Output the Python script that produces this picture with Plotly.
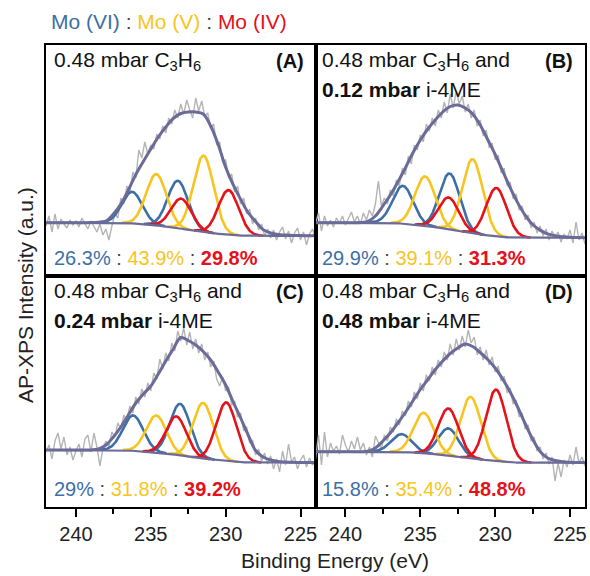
import numpy as np
import plotly.graph_objects as go
from plotly.subplots import make_subplots

FONT = "Liberation Sans, Arial, Helvetica, sans-serif"

# ---------------- data ----------------
energy_raw = np.linspace(242, 224, 91)   # 0.2 eV steps
energy_env = np.linspace(242, 224, 37)   # 0.5 eV steps
energy_fit = np.linspace(242, 224, 721)  # fine grid for fitted components

raw_A = [50, 60, 44, 62, 47, 57, 52, 48, 56, 51, 55, 49, 58, 52, 47, 55, 50, 44, 52, 41,
         47, 36, 50, 62, 58, 78, 72, 90, 84, 104, 98, 126, 118, 134, 122, 131, 127, 142, 137, 150,
         143, 158, 152, 166, 158, 172, 162, 176, 166, 158, 178, 165, 175, 160, 163, 148, 152, 131, 134, 114,
         116, 98, 102, 84, 90, 72, 78, 62, 67, 52, 58, 46, 52, 40, 47, 38, 46, 36, 44, 49,
         37, 45, 33, 43, 48, 36, 44, 31, 42, 47, 38]
raw_B = [52, 63, 45, 60, 50, 56, 49, 58, 53, 60, 51, 57, 64, 54, 60, 52, 63, 56, 66, 60,
         72, 95, 70, 78, 72, 86, 80, 96, 90, 108, 101, 120, 112, 131, 126, 141, 134, 152, 145, 158,
         150, 166, 158, 174, 163, 182, 168, 185, 172, 180, 164, 172, 158, 166, 150, 156, 140, 146, 128, 133,
         116, 121, 103, 108, 90, 94, 77, 82, 66, 70, 56, 61, 48, 54, 43, 50, 40, 47, 36, 45,
         38, 44, 34, 42, 37, 46, 33, 54, 36, 43, 32]
raw_C = [55, 62, 48, 66, 74, 58, 70, 52, 60, 47, 56, 63, 50, 68, 72, 55, 74, 60, 41, 58,
         66, 60, 75, 70, 84, 78, 92, 86, 101, 94, 110, 103, 118, 110, 124, 116, 134, 128, 148, 138,
         154, 146, 164, 156, 176, 166, 179, 162, 175, 158, 168, 154, 163, 147, 155, 140, 146, 128, 121, 130,
         116, 120, 102, 106, 90, 94, 76, 80, 64, 67, 52, 58, 46, 54, 43, 51, 38, 48, 35, 56,
         42, 63, 45, 50, 38, 47, 52, 40, 49, 42, 46]
raw_D = [48, 72, 42, 75, 50, 64, 56, 61, 53, 72, 62, 55, 66, 58, 70, 57, 64, 52, 60, 50,
         71, 64, 58, 72, 66, 80, 75, 88, 82, 96, 91, 106, 100, 115, 108, 124, 116, 132, 126, 140,
         132, 147, 140, 155, 147, 163, 152, 168, 157, 171, 160, 177, 164, 170, 152, 160, 147, 157, 142, 150,
         135, 141, 126, 131, 114, 119, 103, 107, 90, 94, 78, 82, 66, 70, 56, 60, 48, 54, 43, 50,
         26, 44, 30, 47, 40, 52, 42, 60, 44, 50, 41]

env_A = [53.3, 53.3, 53.3, 53.3, 53.3, 53.3, 53.4, 53.8, 55.0, 62.0, 72.0, 86.0, 101.5, 114.5, 127.0, 139.0,
         149.0, 157.5, 162.5, 164.0, 164.0, 162.0, 150.0, 131.5, 108.8, 91.3, 76.6, 63.5, 54.4, 46.4, 43.0,
         41.5, 41.0, 40.6, 40.4, 40.3, 40.2]
env_B = [53.3, 53.3, 53.3, 53.3, 53.3, 53.3, 53.5, 54.5, 60.0, 70.0, 81.0, 94.0, 108.0, 123.0, 136.0, 147.0,
         156.0, 164.0, 169.5, 171.0, 168.0, 162.0, 151.0, 136.5, 121.7, 105.0, 88.4, 73.4, 60.9, 51.5, 45.9,
         42.1, 40.3, 39.3, 38.7, 38.4, 38.3]
env_C = [57.0, 57.0, 57.0, 57.0, 57.0, 57.0, 57.1, 58.0, 62.0, 70.0, 80.0, 92.0, 104.0, 113.0, 121.0, 133.0,
         146.0, 158.0, 169.5, 166.5, 162.0, 155.5, 147.0, 135.0, 122.0, 105.0, 89.0, 72.0, 56.5, 50.0, 47.0,
         45.5, 45.0, 44.7, 44.6, 44.5, 44.5]
env_D = [55.3, 55.3, 55.3, 55.3, 55.3, 55.3, 55.3, 55.8, 59.0, 66.0, 74.0, 84.0, 94.5, 106.0, 117.5, 127.5,
         137.5, 146.0, 153.5, 159.0, 163.0, 160.5, 154.5, 147.5, 139.0, 128.0, 115.0, 100.0, 83.5, 68.0, 55.5,
         49.0, 46.5, 45.3, 44.8, 44.5, 44.4]

# background levels: (high-BE side, low-BE side)
bg_A = (53.3, 40.2)
bg_B = (53.3, 38.3)
bg_C = (57.0, 44.5)
bg_D = (55.3, 44.4)

# fitted components: (oxidation state, centre eV, height above background, FWHM eV)
peaks_A = [("VI", 236.25, 31.7, 1.6), ("VI", 233.19, 47.4, 1.6),
           ("V", 234.63, 51.3, 1.6), ("V", 231.48, 76.3, 1.6),
           ("IV", 232.97, 30.0, 1.6), ("IV", 229.81, 44.6, 1.6)]
peaks_B = [("VI", 236.16, 37.9, 1.6), ("VI", 233.04, 55.9, 1.6),
           ("V", 234.68, 49.5, 1.6), ("V", 231.51, 74.2, 1.6),
           ("IV", 233.10, 31.7, 1.6), ("IV", 229.92, 48.5, 1.6)]
peaks_C = [("VI", 236.18, 35.4, 1.6), ("VI", 233.04, 51.7, 1.6),
           ("V", 234.64, 37.0, 1.6), ("V", 231.51, 55.7, 1.6),
           ("IV", 233.29, 38.5, 1.6), ("IV", 229.96, 58.7, 1.6)]
peaks_D = [("VI", 236.25, 18.0, 1.6), ("VI", 233.12, 27.2, 1.6),
           ("V", 234.78, 40.5, 1.6), ("V", 231.64, 61.5, 1.6),
           ("IV", 233.12, 47.2, 1.6), ("IV", 229.94, 71.5, 1.6)]

panel_letters = ["A", "B", "C", "D"]
label_A = ["0.48 mbar C<sub>3</sub>H<sub>6</sub>"]
label_B = ["0.48 mbar C<sub>3</sub>H<sub>6</sub> and", "<b>0.12 mbar</b> i-4ME"]
label_C = ["0.48 mbar C<sub>3</sub>H<sub>6</sub> and", "<b>0.24 mbar</b> i-4ME"]
label_D = ["0.48 mbar C<sub>3</sub>H<sub>6</sub> and", "<b>0.48 mbar</b> i-4ME"]

pct_A = ["26.3%", "43.9%", "29.8%"]
pct_B = ["29.9%", "39.1%", "31.3%"]
pct_C = ["29%", "31.8%", "39.2%"]
pct_D = ["15.8%", "35.4%", "48.8%"]

state_names = ["Mo (VI)", "Mo (V)", "Mo (IV)"]

tick_vals = [240, 235, 230, 225]

# ---------------- style ----------------
BLUE = "#3d6fa6"
YELLOW = "#f8c420"
RED = "#e3121b"
ENV = "#6b6b99"
RAW = "#b4b4b4"
COLORS = {"VI": BLUE, "V": YELLOW, "IV": RED}

FIG_W, FIG_H = 590, 576
# page-pixel positions of the plotting frame
L_PX, R_PX, T_PX, B_PX = 46, 587, 45, 507

fig = make_subplots(rows=2, cols=2, horizontal_spacing=0, vertical_spacing=0)

panels = [
    (raw_A, env_A, bg_A, peaks_A, 1, 1),
    (raw_B, env_B, bg_B, peaks_B, 1, 2),
    (raw_C, env_C, bg_C, peaks_C, 2, 1),
    (raw_D, env_D, bg_D, peaks_D, 2, 2),
]


def gauss(E, c, h, fwhm):
    s = fwhm / 2.3548
    return h * np.exp(-(E - c) ** 2 / (2 * s * s))


for raw, env, bglev, peaks, r, c in panels:
    fig.add_trace(go.Scatter(x=energy_raw, y=raw, mode="lines",
                             line=dict(color=RAW, width=1.4), hoverinfo="skip"), row=r, col=c)
    comps = [gauss(energy_fit, p[1], p[2], p[3]) for p in peaks]
    total = np.sum(comps, axis=0)
    asc = np.cumsum(total[::-1])
    frac = (asc / asc[-1])[::-1]
    bg = bglev[1] + (bglev[0] - bglev[1]) * frac
    for p, g in zip(peaks, comps):
        m = g > 0.15
        fig.add_trace(go.Scatter(x=energy_fit[m], y=(bg + g)[m], mode="lines",
                                 line=dict(color=COLORS[p[0]], width=2.6), hoverinfo="skip"),
                      row=r, col=c)
    fig.add_trace(go.Scatter(x=energy_fit, y=bg, mode="lines",
                             line=dict(color=ENV, width=2.2), hoverinfo="skip"), row=r, col=c)
    fig.add_trace(go.Scatter(x=energy_env, y=env, mode="lines", line_shape="spline",
                             line=dict(color=ENV, width=3), hoverinfo="skip"), row=r, col=c)

# axes
for r in (1, 2):
    for c in (1, 2):
        fig.update_xaxes(range=[242, 224], showline=True, mirror=True, linecolor="black",
                         linewidth=2, showgrid=False, zeroline=False, row=r, col=c)
        fig.update_yaxes(range=[0, 231], showline=True, mirror=True, linecolor="black",
                         linewidth=2, showgrid=False, zeroline=False, showticklabels=False,
                         ticks="", row=r, col=c)
        if r == 1:
            fig.update_xaxes(ticks="", showticklabels=False, row=r, col=c)
        else:
            fig.update_xaxes(ticks="outside", ticklen=8, tickwidth=2, tickcolor="black",
                             tickmode="array", tickvals=tick_vals,
                             ticktext=[str(v) for v in tick_vals],
                             tickfont=dict(family=FONT, size=20, color="#222"),
                             minor=dict(ticks="outside", ticklen=5, tickwidth=2,
                                        tickcolor="black", dtick=2.5, tick0=225, showgrid=False),
                             row=r, col=c)

W_PX, H_PX = R_PX - L_PX, B_PX - T_PX


def px(xp):
    # page pixel x -> paper coordinate
    return (xp - L_PX) / W_PX


def py(yp):
    # page pixel y -> paper coordinate
    return (B_PX - yp) / H_PX


annots = []
labels = [label_A, label_B, label_C, label_D]
pcts = [pct_A, pct_B, pct_C, pct_D]
offs = [(0, 0), (269.5, 0), (0, 230.5), (269.5, 230.5)]
for letter, lab, pc, (dx, dy) in zip(panel_letters, labels, pcts, offs):
    for k, line in enumerate(lab):
        annots.append(dict(x=px(52 + dx), y=py(61.5 + dy + 28.5 * k), xref="paper", yref="paper",
                           text=line, showarrow=False, xanchor="left", yanchor="middle",
                           font=dict(family=FONT, size=21, color="#111")))
    annots.append(dict(x=px(307 + dx), y=py(61.5 + dy), xref="paper", yref="paper",
                       text="<b>(%s)</b>" % letter, showarrow=False, xanchor="right",
                       yanchor="middle", font=dict(family=FONT, size=20, color="#111")))
    txt = ("<span style='color:%s'>%s</span> : <span style='color:%s'>%s</span> : "
           "<b><span style='color:%s'>%s</span></b>") % (BLUE, pc[0], YELLOW, pc[1], RED, pc[2])
    annots.append(dict(x=px(52 + dx), y=py(258 + dy), xref="paper", yref="paper",
                       text=txt, showarrow=False, xanchor="left", yanchor="middle",
                       font=dict(family=FONT, size=20, color="#444")))

legend_txt = ("<span style='color:%s'>%s</span> : <span style='color:%s'>%s</span> : "
              "<span style='color:%s'>%s</span>") % (BLUE, state_names[0], YELLOW, state_names[1],
                                                     RED, state_names[2])
annots.append(dict(x=px(49), y=py(21.5), xref="paper", yref="paper", text=legend_txt,
                   showarrow=False, xanchor="left", yanchor="middle",
                   font=dict(family=FONT, size=21, color="#444")))
annots.append(dict(x=px(336.5), y=py(560.5), xref="paper", yref="paper",
                   text="Binding Energy (eV)", showarrow=False, xanchor="center",
                   yanchor="middle", font=dict(family=FONT, size=21, color="#222")))
annots.append(dict(x=px(25), y=py(295), xref="paper", yref="paper",
                   text="AP-XPS Intensity (a.u.)", showarrow=False, textangle=-90,
                   xanchor="center", yanchor="middle",
                   font=dict(family=FONT, size=21, color="#222")))

fig.update_layout(width=FIG_W, height=FIG_H,
                  margin=dict(l=L_PX, r=FIG_W - R_PX, t=T_PX, b=FIG_H - B_PX),
                  paper_bgcolor="white", plot_bgcolor="white", showlegend=False,
                  annotations=annots)

fig.write_html("out.html", config={"displayModeBar": False},
               post_script="document.body.style.margin='0';document.body.style.overflow='hidden';")
